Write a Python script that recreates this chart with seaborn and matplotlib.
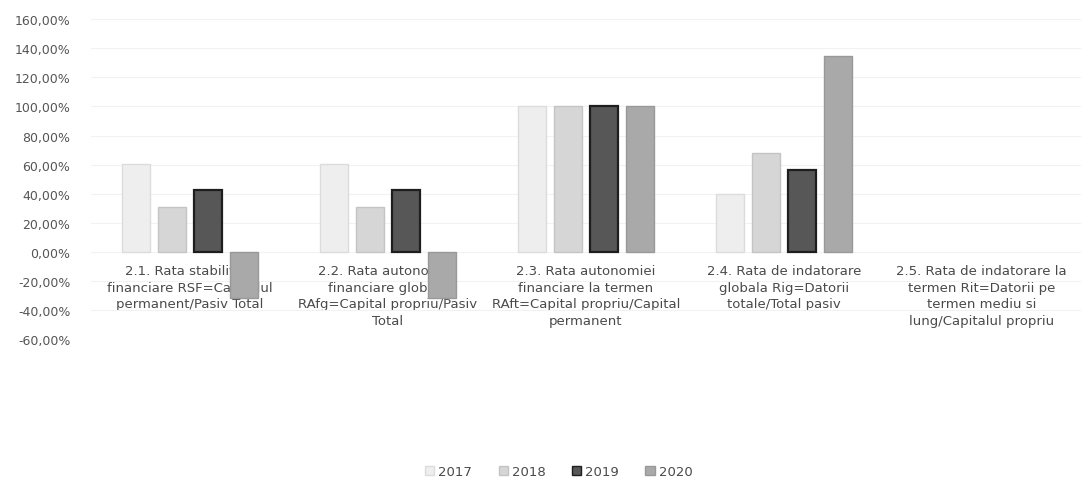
import numpy as np
import pandas as pd
import matplotlib
matplotlib.use("Agg")
import matplotlib.pyplot as plt
from matplotlib.ticker import FuncFormatter, MultipleLocator
from matplotlib.patches import Patch
import seaborn as sns

# Indicator labels (category axis)
indicators = [
    "2.1. Rata stabilitatii\nfinanciare RSF=Capitalul\npermanent/Pasiv Total",
    "2.2. Rata autonomiei\nfinanciare globale\nRAfg=Capital propriu/Pasiv\nTotal",
    "2.3. Rata autonomiei\nfinanciare la termen\nRAft=Capital propriu/Capital\npermanent",
    "2.4. Rata de indatorare\nglobala Rig=Datorii\ntotale/Total pasiv",
    "2.5. Rata de indatorare la\ntermen Rit=Datorii pe\ntermen mediu si\nlung/Capitalul propriu",
]
years = ["2017", "2018", "2019", "2020"]

# Values in percent, one list per year
v2017 = [60.5, 60.5, 100.0, 40.0, np.nan]
v2018 = [31.0, 31.0, 100.0, 68.0, np.nan]
v2019 = [42.5, 42.5, 100.0, 56.0, np.nan]
v2020 = [-32.0, -32.0, 100.0, 134.5, np.nan]

values = {"2017": v2017, "2018": v2018, "2019": v2019, "2020": v2020}
rows = []
for y in years:
    for ind, v in zip(indicators, values[y]):
        rows.append({"indicator": ind, "year": y, "value": v})
df = pd.DataFrame(rows)

fills = {"2017": "#eeeeee", "2018": "#d6d6d6", "2019": "#575757", "2020": "#a9a9a9"}
edges = {"2017": "#dcdcdc", "2018": "#c4c4c4", "2019": "#1e1e1e", "2020": "#999999"}

sns.set_style("white")
plt.rcParams["font.family"] = ["DejaVu Sans"]

fig = plt.figure(figsize=(10.85, 4.81), dpi=100)
ax = fig.add_axes([0.084, 0.293, 0.912, 0.665])

sns.barplot(data=df, x="indicator", y="value", hue="year", order=indicators,
            hue_order=years, palette=fills, width=0.73, gap=0.22,
            saturation=1, legend=False, ax=ax)

# Edge colours per series
for cont, y in zip(ax.containers, years):
    for bar in cont:
        bar.set_edgecolor(edges[y])
        bar.set_linewidth(1.6 if y == "2019" else 1.0)
        bar.set_zorder(3)

ax.set_ylim(-60, 160)
ax.yaxis.set_major_locator(MultipleLocator(20))
ax.yaxis.set_major_formatter(FuncFormatter(lambda v, p: f"{v:.2f}".replace(".", ",") + "%"))
ax.grid(axis="y", color="#f2f2f2", linewidth=0.8, zorder=0)
ax.set_axisbelow(True)

for s in ["top", "right", "left"]:
    ax.spines[s].set_visible(False)
ax.spines["bottom"].set_position(("data", 0))
ax.spines["bottom"].set_visible(False)

ax.set_xlabel("")
ax.set_ylabel("")
ax.tick_params(axis="x", length=0, pad=9, labelsize=9.5, labelcolor="#4a4a4a")
ax.tick_params(axis="y", length=0, pad=15, labelsize=9, labelcolor="#555555")
for lbl in ax.get_xticklabels():
    lbl.set_linespacing(1.35)
ax.set_xlim(-0.5, 4.5)

# Legend below the plot
handles = [Patch(facecolor=fills[y], edgecolor=edges[y]) for y in years]
fig.legend(handles, years, loc="lower center", bbox_to_anchor=(0.515, -0.02),
           ncol=4, frameon=False, handlelength=0.7, handleheight=0.7,
           handletextpad=0.3, columnspacing=2.0, fontsize=9.5,
           labelcolor="#4a4a4a")

fig.savefig("out.png", dpi=100, facecolor="white")
